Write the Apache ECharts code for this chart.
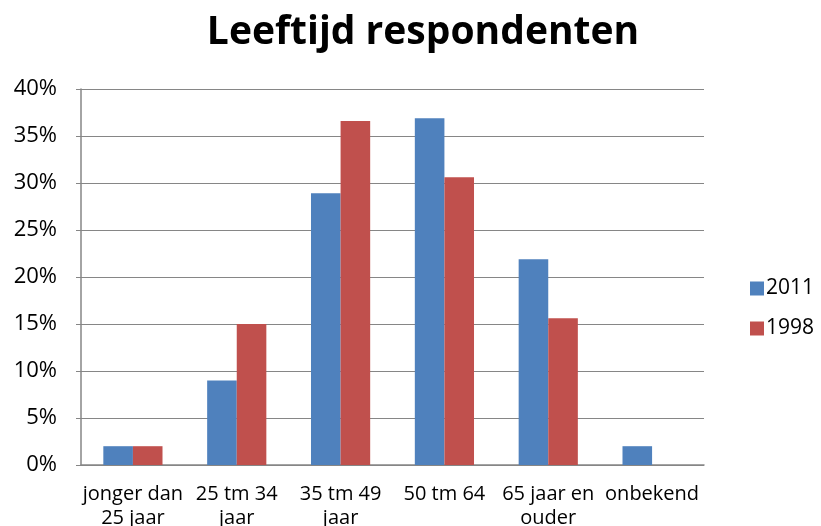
<!DOCTYPE html>
<html><head><meta charset="utf-8">
<script src="https://cdn.jsdelivr.net/npm/echarts@6/dist/echarts.min.js"></script>
<style>html,body{margin:0;padding:0;background:#fff}#c{width:821px;height:526px}</style>
</head><body><div id="c"></div>
<script>
const categories = ["jonger dan\n25 jaar", "25 tm 34\njaar", "35 tm 49\njaar", "50 tm 64", "65 jaar en\nouder", "onbekend"];
const values2011 = [2.0, 9.0, 28.9, 36.9, 21.9, 2.0];
const values1998 = [2.0, 15.0, 36.6, 30.6, 15.6, 0];
const yTicks = [0, 5, 10, 15, 20, 25, 30, 35, 40];

const FONT = "'Open Sans', sans-serif";
const chart = echarts.init(document.getElementById('c'), null, {renderer: 'canvas'});
chart.setOption({
  animation: false,
  backgroundColor: '#ffffff',
  title: {
    text: 'Leeftijd respondenten', left: 418, top: 8, textAlign: 'center',
    textStyle: {fontFamily: FONT, fontSize: 39, fontWeight: 'bold', color: '#000'}
  },
  legend: {
    orient: 'vertical', left: 745, top: 273, itemWidth: 14, itemHeight: 14, itemGap: 19,
    icon: 'rect',
    textStyle: {fontFamily: FONT, fontSize: 21, color: '#000', padding: [0,0,0,-3]},
    data: ['2011', '1998']
  },
  grid: {left: 81, right: 117, top: 89, bottom: 61, containLabel: false, outerBoundsMode: 'none'},
  xAxis: {
    type: 'category', data: categories,
    axisLine: {lineStyle: {color: '#868686', width: 1.5}},
    axisTick: {show: false},
    axisLabel: {fontFamily: FONT, fontSize: 20, color: '#000', lineHeight: 24, margin: 17, interval: 0}
  },
  yAxis: {
    type: 'value', min: 0, max: 40, interval: 5,
    axisLine: {show: true, lineStyle: {color: '#868686', width: 1.5}},
    axisTick: {show: true, length: 5, lineStyle: {color: '#868686'}},
    splitLine: {lineStyle: {color: '#868686', width: 1.2}},
    axisLabel: {fontFamily: FONT, fontSize: 22, color: '#000', margin: 24,
      formatter: v => yTicks.includes(v) ? v + '%' : ''}
  },
  series: [
    {name: '2011', type: 'bar', data: values2011, barGap: '0%', barCategoryGap: '43%',
     itemStyle: {color: '#4F81BD'}},
    {name: '1998', type: 'bar', data: values1998, barGap: '0%', barCategoryGap: '43%',
     itemStyle: {color: '#C0504D'}}
  ]
});
</script></body></html>
